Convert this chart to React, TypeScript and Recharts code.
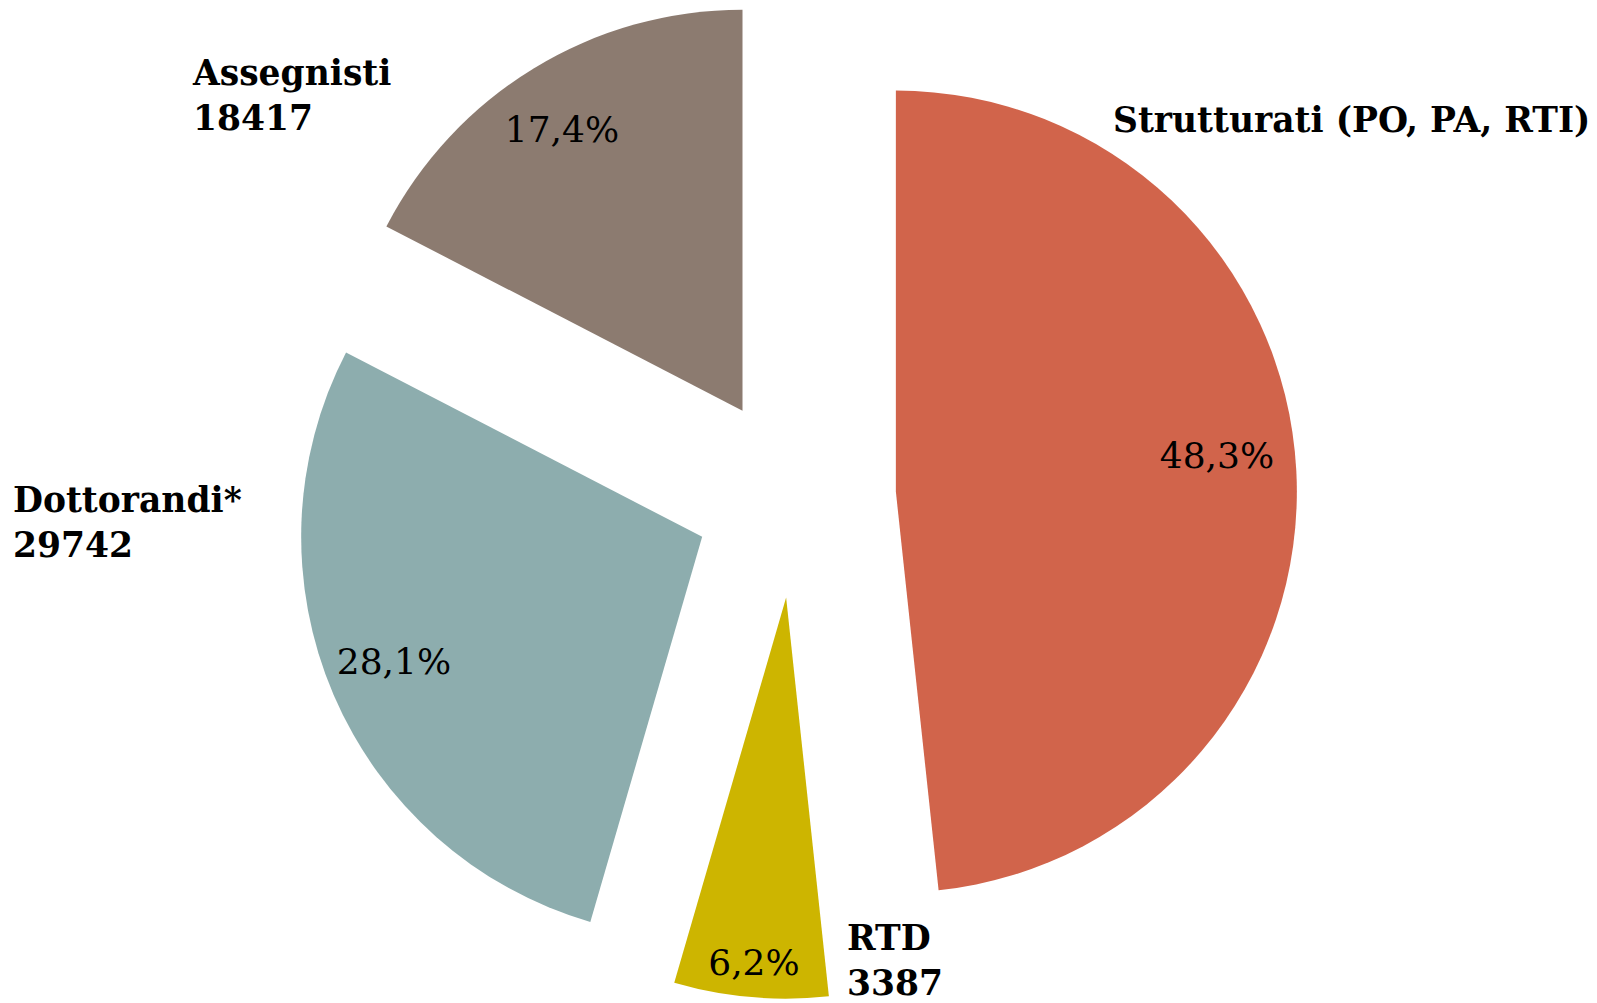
import { PieChart, Pie, Cell, Sector } from "recharts";

const CATEGORIES = ["Strutturati (PO, PA, RTI)", "RTD", "Dottorandi*", "Assegnisti"];
const SHARES = [48.3, 6.2, 28.1, 17.4];
const COUNTS: (number | null)[] = [null, 3387, 29742, 18417];

const COLORS = ["#D1644B", "#CDB500", "#8DADAE", "#8C7B70"];

const W = 1597;
const H = 1003;
const CX = 795;
const CY = 497;
const R = 401;
const EXPLODE = 101;
const RAD = Math.PI / 180;
const FONT = "'DejaVu Serif', Georgia, serif";

// text anchors: [left x, first baseline] for names, [centre x, baseline] for shares
const NAME_POS = [[1113, 132], [847, 950], [13, 512], [193, 85]];
const PCT_POS = [[1217, 468], [754, 975], [394, 674], [562, 142]];
const LINE_GAP = 45;

const data = CATEGORIES.map((name, i) => ({ name, share: SHARES[i], count: COUNTS[i] }));

function ExplodedSlice(props: any) {
  const { cx, cy, innerRadius, outerRadius, startAngle, endAngle, fill } = props;
  const mid = (startAngle + endAngle) / 2;
  const dx = EXPLODE * Math.cos(-mid * RAD);
  const dy = EXPLODE * Math.sin(-mid * RAD);
  return (
    <Sector
      cx={cx + dx}
      cy={cy + dy}
      innerRadius={innerRadius}
      outerRadius={outerRadius}
      startAngle={startAngle}
      endAngle={endAngle}
      fill={fill}
      stroke="none"
    />
  );
}

function SliceLabel(props: any) {
  const i = props.index;
  const d = data[i];
  const [nx, ny] = NAME_POS[i];
  const [px, py] = PCT_POS[i];
  return (
    <g>
      <text x={px} y={py} textAnchor="middle" fontFamily={FONT} fontSize={36} fill="#000">
        {d.share.toFixed(1).replace(".", ",")}%
      </text>
      <text x={nx} y={ny} textAnchor="start" fontFamily={FONT} fontSize={34.5} fontWeight="bold" fill="#000">
        {d.name}
      </text>
      {d.count != null && (
        <text x={nx} y={ny + LINE_GAP} textAnchor="start" fontFamily={FONT} fontSize={34.5} fontWeight="bold" fill="#000">
          {d.count}
        </text>
      )}
    </g>
  );
}

export default function App() {
  return (
    <div style={{ position: "absolute", left: 0, top: 0, width: W, height: H, background: "#fff" }}>
      <PieChart width={W} height={H} margin={{ top: 0, right: 0, bottom: 0, left: 0 }}>
        <Pie
          data={data}
          dataKey="share"
          nameKey="name"
          cx={CX}
          cy={CY}
          innerRadius={0}
          outerRadius={R}
          startAngle={90}
          endAngle={-270}
          stroke="none"
          shape={ExplodedSlice}
          label={SliceLabel}
          labelLine={false}
          isAnimationActive={false}
        >
          {data.map((_, i) => (
            <Cell key={i} fill={COLORS[i]} />
          ))}
        </Pie>
      </PieChart>
    </div>
  );
}
